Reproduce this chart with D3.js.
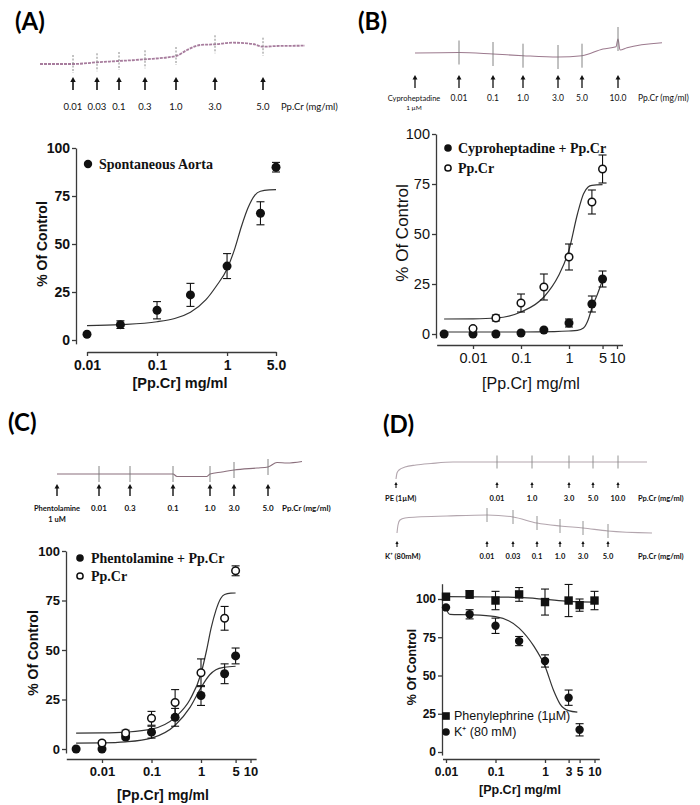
<!DOCTYPE html>
<html><head><meta charset="utf-8">
<script src="https://cdn.jsdelivr.net/npm/d3@7"></script>
<style>body{margin:0;background:#fff}svg{display:block}</style>
</head><body>
<svg id="fig" width="700" height="805"></svg>
<script>
// ================= DATA =================
// Panel A : spontaneous aorta
const doseA = [0.01, 0.03, 0.1, 0.3, 1, 3, 5];
const respA = [3, 8, 15.5, 23.5, 38.5, 66, 90];
const semA  = [0, 2, 4.5, 6, 6.5, 6, 2.5];
const fitDoseA = [0.01, 0.03, 0.1, 0.3, 0.5, 0.7, 1, 1.3, 1.6, 2, 2.5, 3, 4, 5];
const fitRespA = [7.5, 8, 9.5, 14.5, 21, 28, 37, 48, 59, 69, 75.5, 77.5, 78.2, 78.3];
const xTicksA = [0.01, 0.1, 1, 5];
const xTickLabelsA = ["0.01", "0.1", "1", "5.0"];

// Panel B : cyproheptadine
const doseBcy = [0.0025, 0.01, 0.03, 0.1, 0.3, 1, 3, 5];
const respBcy = [0, 0, 0, 0.5, 2, 5.5, 15, 27.5];
const semBcy  = [0, 0, 0, 0.5, 0.5, 2, 4, 4];
const doseBpp = [0.01, 0.03, 0.1, 0.3, 1, 3, 5];
const respBpp = [2.7, 8, 15.5, 23.5, 38.5, 66, 82.5];
const semBpp  = [1, 1.5, 4.5, 6.5, 6.5, 6, 7];
const fitDoseBpp = [0.0025, 0.01, 0.03, 0.1, 0.3, 0.6, 1, 1.5, 2, 2.5, 3, 5];
const fitRespBpp = [7.5, 7.6, 8, 11, 18.5, 29, 42, 60, 70, 73.5, 74.3, 74.7];
const fitDoseBcy = [0.0025, 0.1, 0.5, 1, 1.5, 2, 2.5, 3, 4, 5];
const fitRespBcy = [1, 1, 1.2, 1.5, 1.8, 3, 7, 13, 20.5, 27];
const xTicksB = [0.01, 0.1, 1, 5, 10];
const xTickLabelsB = ["0.01", "0.1", "1", "5", "10"];

// Panel C : phentolamine
const doseCph = [0.003, 0.01, 0.03, 0.1, 0.3, 1, 3, 5];
const respCph = [0, 0, 6, 8.5, 16, 27, 38, 47];
const semCph  = [0, 0, 1, 3, 4.5, 5, 5, 4];
const doseCpp = [0.01, 0.03, 0.1, 0.3, 1, 3, 5];
const respCpp = [3, 8, 15.5, 23.5, 38.5, 66, 90];
const semCpp  = [1, 1.5, 3.5, 6.5, 7, 6, 2.5];
const fitDoseCpp = [0.003, 0.01, 0.03, 0.1, 0.3, 0.6, 1, 1.3, 1.6, 2, 2.5, 3, 4, 5];
const fitRespCpp = [8, 8.1, 8.5, 10, 16, 25, 38, 50, 61, 70, 76, 78, 78.7, 78.8];
const fitDoseCph = [0.003, 0.01, 0.03, 0.1, 0.3, 0.6, 1, 1.5, 2, 3, 5];
const fitRespCph = [3, 3.1, 3.6, 5.5, 12, 21, 31, 37.5, 40, 41.3, 41.8];
const xTicksC = [0.01, 0.1, 1, 5, 10];
const xTickLabelsC = ["0.01", "0.1", "1", "5", "10"];

// Panel D : phenylephrine and K+
const doseDpe = [0.01, 0.03, 0.1, 0.3, 1, 3, 5, 10];
const respDpe = [101.5, 103, 99, 103, 98, 99, 96, 99];
const semDpe  = [1.5, 2.5, 6, 4.5, 8.5, 10.5, 4, 6];
const doseDk = [0.01, 0.03, 0.1, 0.3, 1, 3, 5];
const respDk = [94.5, 90, 82.5, 72.5, 59.5, 35.5, 14.5];
const semDk  = [0, 3, 5, 3, 4, 5, 4];
const fitDoseDpe = [0.01, 0.1, 0.3, 1, 3, 10];
const fitRespDpe = [101.5, 101.3, 101, 99.8, 98.5, 98];
const fitDoseDk = [0.01, 0.011, 0.012, 0.03, 0.1, 0.3, 0.6, 1, 1.5, 2, 3, 4.5];
const fitRespDk = [94.5, 91, 90, 89.7, 88.5, 81, 69, 56, 40, 31.5, 27, 26];
const xTicksD = [0.01, 0.1, 1, 3, 5, 10];
const xTickLabelsD = ["0.01", "0.1", "1", "3", "5", "10"];

const yTicks = [0, 25, 50, 75, 100];

// Tracings (time in px-like units, tension deflection)
const traceA_t = [0, 33, 57, 79, 105, 136, 147, 160, 175, 193, 213, 223, 237, 265];
const traceA_v = [0, 0, 1.7, 3, 4.7, 8, 14, 19, 19.7, 21.3, 20, 17.3, 18, 18.3];
const marksA_t = [33, 57, 79, 105, 136, 175, 223];
const marksA_lab = ["0.01", "0.03", "0.1", "0.3", "1.0", "3.0", "5.0"];

const traceB_t = [0, 44, 78, 108, 143, 167, 188, 201, 203, 205, 212, 247];
const traceB_v = [0, 0.5, -1, -2.7, -4, -2.7, 4, 6.3, 14, 3, 5.3, 10.3];
const marksB_t = [44, 78, 108, 143, 167, 203];
const marksB_lab = ["0.01", "0.1", "1.0", "3.0", "5.0", "10.0"];

const traceC_t = [0, 116, 120, 150, 153, 165, 177, 200, 211, 220, 230, 245];
const traceC_v = [0, 0, -2.5, -2.5, 0, 2, 4, 6, 7, 11.5, 11, 12.5];
const marksC_t = [42, 73, 116, 153, 177, 211];
const marksC_lab = ["0.01", "0.3", "0.1", "1.0", "3.0", "5.0"];

const traceD1_t = [0, 1, 3, 9, 20, 35, 57, 251];
const traceD1_v = [0, 6, 9, 12, 14, 15.5, 17, 17];
const marksD1_t = [101, 136, 173, 197, 222];
const marksD1_lab = ["0.01", "1.0", "3.0", "5.0", "10.0"];

const traceD2_t = [0, 1, 3, 8, 20, 50, 90, 116, 140, 163, 186, 211, 255];
const traceD2_v = [0, 8, 13, 15, 16, 17, 18, 16, 10, 7, 5, 2, 0];
const marksD2_t = [90, 116, 140, 163, 186, 211];
const marksD2_lab = ["0.01", "0.03", "0.1", "1.0", "3.0", "5.0"];

// ================= DRAWING =================
const svg = d3.select('#fig');
const INK = '#111';
const AX = '#3a3a3a';
const SANS = 'Liberation Sans, Arial, sans-serif';
const SERIF = 'Liberation Serif, Times New Roman, serif';
const CAL = 'Lato, Open Sans, sans-serif';

function panelLetter(txt, x, y) {
  svg.append('text').attr('x', x).attr('y', y).text(txt)
    .style('font-family', CAL).style('font-weight', 'bold').style('font-size', '24px').attr('fill', '#000');
}

function interp(ts, vs, t) {
  const f = d3.scaleLinear().domain(ts).range(vs).clamp(true);
  return f(t);
}

function arrow(g, x, yTop, yBot, head, w) {
  g.append('line').attr('x1', x).attr('x2', x).attr('y1', yTop + head * 0.6).attr('y2', yBot)
    .attr('stroke', '#111').attr('stroke-width', w);
  g.append('path').attr('d', `M${x},${yTop} L${x - head * 0.55},${yTop + head} L${x + head * 0.55},${yTop + head} Z`)
    .attr('fill', '#111');
}

function drawTrace(o) {
  const g = svg.append('g');
  const x = d3.scaleLinear().domain([0, 1]).range([o.x0, o.x0 + 1]);
  const y = d3.scaleLinear().domain([0, 1]).range([o.y0, o.y0 - 1]);
  const line = d3.line().x((d, i) => x(o.t[i])).y((d, i) => y(o.v[i])).curve(d3.curveMonotoneX);
  g.append('path').attr('d', line(o.t)).attr('fill', 'none').attr('stroke', o.color)
    .attr('stroke-width', o.sw).attr('stroke-dasharray', o.dash || null);
  o.marks.forEach((t, i) => {
    const yy = y(interp(o.t, o.v, t));
    g.append('line').attr('x1', x(t)).attr('x2', x(t)).attr('y1', yy - o.mh).attr('y2', yy + o.mh)
      .attr('stroke', o.markColor).attr('stroke-width', o.markW).attr('stroke-dasharray', o.markDash || null);
    arrow(g, x(t) + (o.arrowDx || 0), o.ay0, o.ay1, o.ahead, o.aw);
    g.append('text').attr('x', x(t) + (o.arrowDx || 0)).attr('y', o.ly).attr('text-anchor', 'middle')
      .text(o.labels[i]).style('font-family', CAL).style('font-size', o.fs + 'px')
      .style('font-weight', o.fw).attr('fill', '#111');
  });
  if (o.startArrow) arrow(g, x(0), o.ay0, o.ay1, o.ahead, o.aw);
  (o.extra || []).forEach(e => {
    g.append('text').attr('x', e.x).attr('y', e.y).attr('text-anchor', e.anchor || 'start')
      .text(e.text).style('font-family', CAL).style('font-size', (e.fs || o.fs) + 'px')
      .style('font-weight', o.fw).attr('fill', '#111');
  });
  return g;
}

function marker(g, type, cx, cy, r) {
  if (type === 'dot') {
    g.append('circle').attr('cx', cx).attr('cy', cy).attr('r', r).attr('fill', INK);
  } else if (type === 'open') {
    g.append('circle').attr('cx', cx).attr('cy', cy).attr('r', r - 0.7).attr('fill', '#fff')
      .attr('stroke', INK).attr('stroke-width', 1.5);
  } else {
    g.append('rect').attr('x', cx - r).attr('y', cy - r).attr('width', 2 * r).attr('height', 2 * r).attr('fill', INK);
  }
}

function drawChart(c) {
  const g = svg.append('g');
  const x = c.x, y = c.y;
  // y axis
  const ys = y.copy().domain(c.yAxisDom).range(c.yAxisDom.map(y));
  const ya = g.append('g').attr('transform', `translate(${c.yAxisX},0)`)
    .call(d3.axisLeft(ys).tickValues(yTicks).tickSize(4).tickSizeOuter(0).tickPadding(2));
  // x axis
  const xs = x.copy().domain(c.xAxisDom).range(c.xAxisDom.map(x));
  const xa = g.append('g').attr('transform', `translate(0,${c.xAxisY})`)
    .call(d3.axisBottom(xs).tickValues(c.xTicks).tickFormat((d, i) => c.xLabels[i])
      .tickSize(4).tickSizeOuter(0).tickPadding(4));
  [ya, xa].forEach(a => {
    a.select('.domain').attr('stroke', AX).attr('stroke-width', 1.3);
    a.selectAll('.tick line').attr('stroke', AX).attr('stroke-width', 1.3);
    a.selectAll('text').style('font-family', SANS).style('font-weight', c.tickW)
      .style('font-size', c.tickFs + 'px').attr('fill', '#111');
  });
  // titles
  g.append('text').attr('x', c.xTitle[0]).attr('y', c.xTitle[1]).attr('text-anchor', 'middle')
    .text('[Pp.Cr] mg/ml').style('font-family', SANS).style('font-weight', c.titleW)
    .style('font-size', c.titleFs + 'px').attr('fill', '#111');
  g.append('text').attr('transform', `translate(${c.yTitle[0]},${c.yTitle[1]}) rotate(-90)`)
    .attr('text-anchor', 'middle').text('% Of Control').style('font-family', SANS)
    .style('font-weight', c.titleW).style('font-size', c.yTitleFs + 'px').attr('fill', '#111');
  // fitted curves
  const line = d3.line().x(d => x(d[0])).y(d => y(d[1])).curve(d3.curveMonotoneX);
  c.fits.forEach(f => {
    g.append('path').attr('d', line(d3.zip(f[0], f[1]))).attr('fill', 'none')
      .attr('stroke', '#333').attr('stroke-width', 1.2);
  });
  // series
  c.series.forEach(s => {
    s.dose.forEach((d, i) => {
      const cx = x(d), cy = y(s.resp[i]);
      const e = s.sem[i];
      if (e > 0) {
        const y1 = y(s.resp[i] + e), y2 = y(s.resp[i] - e);
        g.append('line').attr('x1', cx).attr('x2', cx).attr('y1', y1).attr('y2', y2)
          .attr('stroke', INK).attr('stroke-width', 1.1);
        [y1, y2].forEach(yy => g.append('line').attr('x1', cx - 4).attr('x2', cx + 4)
          .attr('y1', yy).attr('y2', yy).attr('stroke', INK).attr('stroke-width', 1.1));
      }
      marker(g, s.type, cx, cy, c.r);
    });
  });
  // legend
  c.legend.forEach(l => {
    marker(g, l.type, l.x, l.y, c.lr);
    g.append('text').attr('x', l.x + c.lgap).attr('y', l.y).attr('dy', '0.35em').text(l.text)
      .style('font-family', c.legFont).style('font-weight', c.legW)
      .style('font-size', c.legFs + 'px').attr('fill', '#111');
  });
}

// ---------- Panel A ----------
panelLetter('(A)', 15, 30);
drawTrace({x0: 40, y0: 64, t: traceA_t, v: traceA_v, color: '#a77c9d', sw: 1.8, dash: '3,1',
  marks: marksA_t, labels: marksA_lab, mh: 9, markColor: '#888', markW: 1, markDash: '2,1.5',
  ay0: 77, ay1: 90, ahead: 5, aw: 1.6, ly: 110, fs: 9.5, fw: 'normal',
  extra: [{x: 281, y: 110, text: 'Pp.Cr (mg/ml)'}]});
drawChart({
  x: d3.scaleLog().domain([0.01, 5]).range([87, 276]),
  y: d3.scaleLinear().domain([0, 100]).range([340, 148]),
  yAxisX: 76, yAxisDom: [-2, 100], xAxisY: 352, xAxisDom: [0.01, 5],
  xTicks: xTicksA, xLabels: xTickLabelsA, tickFs: 14, tickW: 'bold',
  titleFs: 14.5, yTitleFs: 14, titleW: 'bold', xTitle: [180, 388], yTitle: [47, 244],
  fits: [[fitDoseA, fitRespA]],
  series: [{dose: doseA, resp: respA, sem: semA, type: 'dot'}],
  r: 4.5, lr: 4.2, lgap: 11, legFont: SERIF, legW: 'bold', legFs: 14,
  legend: [{type: 'dot', x: 88, y: 164, text: 'Spontaneous Aorta'}]
});

// ---------- Panel B ----------
panelLetter('(B)', 358, 30);
drawTrace({x0: 415, y0: 53, t: traceB_t, v: traceB_v, color: '#9c7a8e', sw: 1.1,
  marks: marksB_t, labels: marksB_lab, mh: 12, markColor: '#777', markW: 0.9,
  ay0: 75, ay1: 88, ahead: 4.5, aw: 1.3, ly: 101, fs: 8.5, fw: 'normal', startArrow: true,
  extra: [{x: 414, y: 101, text: 'Cyproheptadine', anchor: 'middle', fs: 7.5},
          {x: 414, y: 110, text: '1 µM', anchor: 'middle', fs: 6.5},
          {x: 638, y: 101, text: 'Pp.Cr (mg/ml)', fs: 8.5}]});
drawChart({
  x: d3.scaleLog().domain([0.01, 1]).range([473, 569]),
  y: d3.scaleLinear().domain([0, 100]).range([334, 134]),
  yAxisX: 436, yAxisDom: [-2, 100], xAxisY: 345, xAxisDom: [0.00175, 13],
  xTicks: xTicksB, xLabels: xTickLabelsB, tickFs: 14.5, tickW: 'normal',
  titleFs: 16, yTitleFs: 17, titleW: 'normal', xTitle: [531, 389], yTitle: [408, 233],
  fits: [[fitDoseBpp, fitRespBpp], [fitDoseBcy, fitRespBcy]],
  series: [{dose: doseBcy, resp: respBcy, sem: semBcy, type: 'dot'},
           {dose: doseBpp, resp: respBpp, sem: semBpp, type: 'open'}],
  r: 4.5, lr: 3.8, lgap: 10, legFont: SERIF, legW: 'bold', legFs: 14,
  legend: [{type: 'dot', x: 448, y: 148, text: 'Cyproheptadine + Pp.Cr'},
           {type: 'open', x: 448, y: 168, text: 'Pp.Cr'}]
});

// ---------- Panel C ----------
panelLetter('(C)', 8, 431);
drawTrace({x0: 57, y0: 474, t: traceC_t, v: traceC_v, color: '#8a6f7c', sw: 1.1,
  marks: marksC_t, labels: marksC_lab, mh: 8, markColor: '#777', markW: 0.9,
  ay0: 484, ay1: 496, ahead: 4.5, aw: 1.4, ly: 511, fs: 8, fw: 'bold', startArrow: true,
  extra: [{x: 57, y: 511, text: 'Phentolamine', anchor: 'middle', fs: 7.5},
          {x: 57, y: 522, text: '1 uM', anchor: 'middle', fs: 7.5},
          {x: 282, y: 511, text: 'Pp.Cr (mg/ml)'}]});
drawChart({
  x: d3.scaleLog().domain([0.01, 1]).range([102, 201]),
  y: d3.scaleLinear().domain([0, 100]).range([749, 551]),
  yAxisX: 66, yAxisDom: [-2, 100], xAxisY: 759, xAxisDom: [0.0019, 13],
  xTicks: xTicksC, xLabels: xTickLabelsC, tickFs: 13, tickW: 'bold',
  titleFs: 14, yTitleFs: 14, titleW: 'bold', xTitle: [163, 800], yTitle: [38, 653],
  fits: [[fitDoseCpp, fitRespCpp], [fitDoseCph, fitRespCph]],
  series: [{dose: doseCph, resp: respCph, sem: semCph, type: 'dot'},
           {dose: doseCpp, resp: respCpp, sem: semCpp, type: 'open'}],
  r: 4.5, lr: 3.8, lgap: 11, legFont: SERIF, legW: 'bold', legFs: 14,
  legend: [{type: 'dot', x: 80, y: 558, text: 'Phentolamine + Pp.Cr'},
           {type: 'open', x: 80, y: 576, text: 'Pp.Cr'}]
});

// ---------- Panel D ----------
panelLetter('(D)', 383, 433);
drawTrace({x0: 396, y0: 479, t: traceD1_t, v: traceD1_v, color: '#b3a6ae', sw: 1.1,
  marks: marksD1_t, labels: marksD1_lab, mh: 6.5, markColor: '#888', markW: 0.9,
  ay0: 482, ay1: 488, ahead: 3, aw: 1.1, ly: 501, fs: 7.5, fw: 'bold', startArrow: true,
  extra: [{x: 385, y: 501, text: 'PE (1µM)'}, {x: 638, y: 501, text: 'Pp.Cr (mg/ml)'}]});
drawTrace({x0: 397, y0: 533, t: traceD2_t, v: traceD2_v, color: '#b3a6ae', sw: 1.1,
  marks: marksD2_t, labels: marksD2_lab, mh: 7, markColor: '#888', markW: 0.9,
  ay0: 541, ay1: 547, ahead: 3, aw: 1.1, ly: 559, fs: 7.5, fw: 'bold', startArrow: true,
  extra: [{x: 385, y: 559, text: 'K⁺ (80mM)'}, {x: 638, y: 559, text: 'Pp.Cr (mg/ml)'}]});
drawChart({
  x: d3.scaleLog().domain([0.01, 1]).range([446, 545]),
  y: d3.scaleLinear().domain([0, 100]).range([752, 599]),
  yAxisX: 442, yAxisDom: [-2, 110], xAxisY: 759, xAxisDom: [0.0085, 12.5],
  xTicks: xTicksD, xLabels: xTickLabelsD, tickFs: 12, tickW: 'bold',
  titleFs: 12.5, yTitleFs: 12.5, titleW: 'bold', xTitle: [520, 794], yTitle: [416, 667],
  fits: [[fitDoseDpe, fitRespDpe], [fitDoseDk, fitRespDk]],
  series: [{dose: doseDpe, resp: respDpe, sem: semDpe, type: 'square'},
           {dose: doseDk, resp: respDk, sem: semDk, type: 'dot'}],
  r: 4.2, lr: 3.8, lgap: 8, legFont: SANS, legW: 'normal', legFs: 12.5,
  legend: [{type: 'square', x: 446, y: 716, text: 'Phenylephrine (1µM)'},
           {type: 'dot', x: 446, y: 732, text: 'K⁺ (80 mM)'}]
});
</script>
</body></html>
